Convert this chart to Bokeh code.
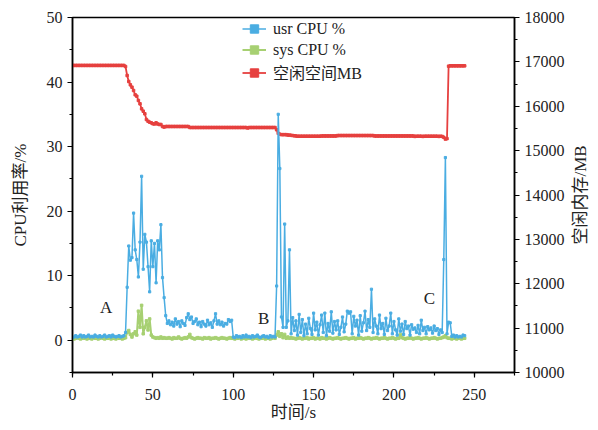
import math
from bokeh.plotting import figure
from bokeh.models import (Range1d, LinearAxis, SingleIntervalTicker, Legend, LegendItem,
                          ColumnDataSource, Label)
from bokeh.core.properties import value
from bokeh.embed import file_html
from bokeh.resources import INLINE

FONT = "Liberation Serif, Noto Sans CJK SC"

# ---------------- data ----------------
usr_cpu = (
    [0.4, 0.5, 0.7, 0.5, 0.6, 0.8, 0.5, 0.7, 0.5, 0.6, 0.8, 0.5, 0.6, 0.5, 0.8, 0.6, 0.5,
     0.7, 0.5, 0.6, 0.8, 0.5, 0.6, 0.7, 0.5, 0.8, 0.6, 0.5, 0.6, 0.7, 0.5, 0.6, 0.7]
    + [1.2, 8.2, 14.6, 12.4, 12.8, 19.7, 14.0, 12.5, 9.8, 15.2, 25.4, 11.0, 16.4, 15.2, 11.4,
       7.5, 15.4, 11.4, 15.0, 8.9, 15.4, 14.0, 17.9, 9.7, 6.6, 3.8]
    + [2.6, 3.0, 2.4, 2.8, 2.2, 3.3, 2.5, 2.9, 2.1, 3.0, 2.6, 2.3, 3.5, 4.1, 3.2, 3.6, 2.6,
       2.9, 3.3, 2.4, 2.8, 2.1, 2.9, 2.5, 2.2, 3.1, 2.4, 2.7, 2.0, 3.0, 4.1, 2.5, 3.0, 2.4,
       2.8, 2.2, 2.6, 2.5, 3.2, 2.9, 3.1]
    + [0.5, 0.4, 0.7, 0.5, 0.6, 0.4, 0.7, 0.5, 0.8, 0.5, 0.6, 0.4, 0.7, 0.5, 0.6, 0.8, 0.5,
       0.4, 0.6, 0.7, 0.5, 0.6, 0.4, 0.7, 0.5, 0.6, 0.5]
    + [8.4, 35.0, 26.6, 3.6, 2.0, 18.0, 2.0, 3.0, 14.0, 1.0, 3.5]
    + [1.5, 3.0, 0.8, 4.0, 1.2, 3.2, 0.7, 2.5, 1.0, 3.4, 1.8, 0.9, 4.2, 1.6, 2.8, 0.8, 2.4,
       3.9, 1.2, 4.2, 0.7, 2.6, 1.4, 4.4, 1.1, 2.9, 1.6, 3.0, 0.9, 2.0, 3.6, 1.3, 2.5, 4.5,
       4.2, 4.4, 1.0, 3.7, 2.2, 3.1, 0.8, 3.8, 1.4, 2.7, 4.5, 1.5, 3.2, 2.0, 7.9, 1.2, 3.3,
       2.2, 1.0, 3.9, 1.8, 2.6, 0.9, 3.4, 1.5, 2.2, 4.2, 1.0, 2.9, 1.6, 0.8, 3.3, 1.4, 2.5,
       0.9, 2.9, 1.8, 2.2, 0.8, 2.4, 1.7, 1.9, 1.2, 2.3, 1.0, 3.1, 1.5, 2.0, 1.0, 2.1, 1.6,
       1.9, 1.1, 2.2, 1.5, 1.8, 0.9, 1.6, 1.2]
    + [12.5, 28.3, 1.0, 2.8, 2.7, 0.6, 0.8, 0.5, 0.7, 0.5, 0.6, 0.5, 0.8, 0.7]
)

sys_cpu = (
    [0.3, 0.2, 0.3, 0.4, 0.3, 0.2, 0.3, 0.3, 0.4, 0.2, 0.3, 0.3, 0.2, 0.4, 0.3, 0.3, 0.2,
     0.3, 0.4, 0.3, 0.2, 0.3, 0.3, 0.4, 0.2, 0.3, 0.3, 0.2, 0.4, 0.3, 0.3, 0.2, 0.3]
    + [0.4, 1.2, 1.5, 0.9, 0.5, 1.0, 1.3, 0.8, 4.5, 2.0, 5.4, 1.0, 2.0, 3.0, 1.6, 3.3, 0.8,
       0.5, 0.4, 0.3, 0.4, 0.3, 0.5, 0.3, 0.4, 0.3]
    + [0.3, 0.4, 0.3, 0.2, 0.4, 0.3, 0.3, 0.5, 0.3, 0.2, 0.3, 0.4, 0.3, 0.5, 0.9, 0.4, 0.3,
       0.2, 0.3, 0.4, 0.3, 0.3, 0.2, 0.4, 0.3, 0.3, 0.4, 0.2, 0.3, 0.3, 0.4, 0.3, 0.2, 0.3,
       0.4, 0.3, 0.3, 0.2, 0.3, 0.4, 0.3]
    + [0.3, 0.2, 0.3, 0.3, 0.4, 0.2, 0.3, 0.3, 0.2, 0.4, 0.3, 0.3, 0.2, 0.3, 0.4, 0.3, 0.2,
       0.3, 0.3, 0.4, 0.2, 0.3, 0.3, 0.2, 0.3, 0.4, 0.3]
    + [0.8, 1.3, 0.6, 1.0, 0.4, 0.9, 0.3, 0.5, 0.3, 0.4, 0.3]
    + [0.3, 0.2, 0.3, 0.4, 0.3, 0.2, 0.3, 0.3, 0.4, 0.2, 0.3, 0.3, 0.4, 0.2, 0.3, 0.3, 0.2,
       0.4, 0.3, 0.3, 0.2, 0.3, 0.4, 0.3, 0.2, 0.3, 0.3, 0.4, 0.3, 0.2, 0.3, 0.3, 0.4, 0.3,
       0.2, 0.3, 0.3, 0.4, 0.2, 0.3, 0.3, 0.4, 0.3, 0.2, 0.3, 0.3, 0.4, 0.3, 0.2, 0.3, 0.3,
       0.4, 0.3, 0.2, 0.3, 0.3, 0.4, 0.3, 0.2, 0.3, 0.3, 0.4, 0.3, 0.2, 0.3, 0.3, 0.9, 0.4,
       0.3, 0.2, 0.3, 0.3, 0.4, 0.3, 0.2, 0.3, 0.3, 0.4, 0.3, 0.2, 0.3, 0.3, 0.4, 0.3, 0.2,
       0.3, 0.3, 0.4, 0.3, 0.2, 0.3, 0.3, 0.4]
    + [0.5, 0.7, 0.4, 0.3, 0.3, 0.2, 0.3, 0.3, 0.2, 0.3, 0.3, 0.2, 0.3, 0.3]
)

free_mem = (
    [16920] * 33
    + [16895, 16693, 16558, 16483, 16430, 16355, 16258, 16227, 16130, 16055, 15942, 15889,
       15830, 15701, 15663, 15640, 15627, 15605, 15600, 15627, 15600, 15589, 15589, 15544,
       15530, 15544]
    + [15544, 15544, 15544, 15544, 15544, 15544, 15544, 15544, 15544, 15544, 15544, 15544,
       15544, 15544, 15521, 15521, 15521, 15521, 15521, 15521, 15521, 15521, 15521, 15521,
       15521, 15521, 15521, 15521, 15521, 15521, 15521, 15521, 15521, 15521, 15521, 15521,
       15521, 15521, 15521, 15521, 15521]
    + [15521, 15521, 15521, 15521, 15521, 15521, 15521, 15521, 15521, 15510, 15521, 15521,
       15521, 15521, 15521, 15521, 15521, 15521, 15521, 15521, 15521, 15521, 15521, 15521,
       15521, 15521, 15521]
    + [15470, 15390, 15370, 15360, 15360, 15360, 15360, 15350, 15350, 15345, 15340]
    + [15335, 15330, 15325, 15325, 15325, 15325, 15325, 15325, 15325, 15325, 15325, 15325,
       15325, 15325, 15325, 15325, 15325, 15330, 15330, 15330, 15330, 15330, 15330, 15330,
       15330, 15330, 15330, 15340, 15340, 15340, 15340, 15340, 15340, 15340, 15340, 15340,
       15340, 15340, 15340, 15340, 15340, 15340, 15340, 15340, 15340, 15340, 15340, 15340,
       15340, 15340, 15330, 15330, 15330, 15330, 15330, 15330, 15330, 15330, 15330, 15330,
       15330, 15330, 15330, 15330, 15330, 15330, 15330, 15330, 15330, 15330, 15330, 15330,
       15330, 15330, 15330, 15320, 15325, 15325, 15325, 15325, 15320, 15325, 15325, 15325,
       15325, 15325, 15325, 15325, 15325, 15325, 15320, 15325, 15320]
    + [15300, 15260, 15270, 16903, 16910, 16910, 16910, 16910, 16910, 16910, 16910, 16910,
       16910, 16910]
)

time_s = list(range(len(usr_cpu)))

series_names = ["usr CPU %", "sys CPU %", "空闲空间MB"]
x_label = "时间/s"
y_left_label = "CPU利用率/%"
y_right_label = "空闲内存/MB"

ann_text = ["A", "B", "C"]
ann_x = [21, 119, 222]
ann_y = [5.1, 3.3, 6.4]

BLUE = "#4aade2"
GREEN = "#a7d072"
RED = "#e6403f"

FRAME_W = 442
FRAME_H = 355

src = ColumnDataSource(dict(t=time_s, usr=usr_cpu, sys=sys_cpu, mem=free_mem))

p = figure(width=598, height=430, x_range=Range1d(0, 275), y_range=Range1d(-5, 50),
           output_backend="svg", toolbar_location=None,
           min_border_left=72, min_border_right=84, min_border_top=17, min_border_bottom=58)
p.extra_y_ranges = {"mem": Range1d(10000, 18000)}

p.xgrid.visible = False
p.ygrid.visible = False
p.outline_line_color = "black"
p.outline_line_width = 1.5
p.outline_line_alpha = 1.0
p.background_fill_color = "white"
p.border_fill_color = "white"

# lines
l_mem = p.line("t", "mem", source=src, y_range_name="mem", color=RED, line_width=1.8)
s_mem = p.scatter("t", "mem", source=src, y_range_name="mem", marker="square", size=2.5,
                  color=RED)
l_sys = p.line("t", "sys", source=src, color=GREEN, line_width=2)
s_sys = p.scatter("t", "sys", source=src, marker="square", size=2.5, color=GREEN)
l_usr = p.line("t", "usr", source=src, color=BLUE, line_width=1.5)
s_usr = p.scatter("t", "usr", source=src, marker="square", size=2.2, color=BLUE)

# annotations
p.text(x=ann_x, y=ann_y, text=ann_text, text_align="center", text_baseline="middle",
       text_font=value("Liberation Serif"), text_font_size="17px", text_color="#222222")

# axes styling
def style_axis(ax, interval):
    ax.ticker = SingleIntervalTicker(interval=interval, num_minor_ticks=2)
    ax.axis_line_width = 1.5
    ax.axis_line_color = "black"
    ax.major_tick_line_width = 1.2
    ax.minor_tick_line_width = 1.2
    ax.major_tick_in = 0
    ax.major_tick_out = 5
    ax.minor_tick_in = 0
    ax.minor_tick_out = 3
    ax.major_label_text_font = FONT
    ax.major_label_text_font_size = "16px"
    ax.major_label_text_color = "#222222"
    ax.axis_label_text_font = FONT
    ax.axis_label_text_font_size = "17px"
    ax.axis_label_text_font_style = "normal"
    ax.axis_label_text_color = "#222222"

xax = p.xaxis[0]
style_axis(xax, 50)
xax.major_label_standoff = 11

yax = p.yaxis[0]
style_axis(yax, 10)
yax.axis_label = y_left_label
yax.major_label_standoff = 5
yax.axis_label_standoff = 14

rax = LinearAxis(y_range_name="mem")
style_axis(rax, 1000)
rax.major_label_standoff = 5
p.add_layout(rax, "right")

# x-axis title in the bottom side panel
p.add_layout(Label(x=FRAME_W / 2, y=9, x_units="screen", y_units="screen",
                   text=x_label, text_align="center", text_baseline="middle",
                   text_font=FONT, text_font_size="17px", text_color="#222222"), "below")

# right-hand title, read from bottom to top, placed in the right side panel
p.add_layout(Label(x=13, y=FRAME_H / 2, x_units="screen", y_units="screen",
                   text=y_right_label, angle=math.pi / 2, text_align="center",
                   text_baseline="middle", text_font=FONT, text_font_size="17px",
                   text_color="#222222"), "right")

legend = Legend(items=[
    LegendItem(label=series_names[0], renderers=[l_usr, s_usr]),
    LegendItem(label=series_names[1], renderers=[l_sys, s_sys]),
    LegendItem(label=series_names[2], renderers=[l_mem, s_mem]),
], location=(170, 288))
legend.border_line_color = None
legend.background_fill_alpha = 0
legend.padding = 0
legend.margin = 0
legend.spacing = 0
legend.glyph_width = 24
legend.glyph_height = 21
legend.label_height = 21
legend.label_standoff = 7
legend.label_text_font = FONT
legend.label_text_font_size = "16px"
legend.label_text_color = "#222222"
p.add_layout(legend, "center")

open("out.html", "w").write(file_html(p, INLINE))
